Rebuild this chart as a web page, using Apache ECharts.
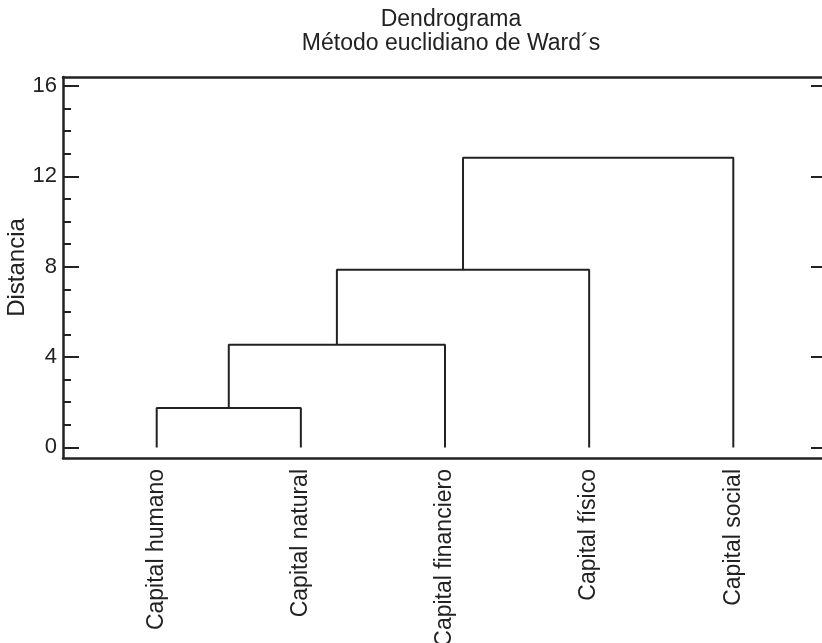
<!DOCTYPE html>
<html>
<head>
<meta charset="utf-8">
<script src="https://cdn.jsdelivr.net/npm/echarts@6/dist/echarts.min.js"></script>
<style>
  html, body { margin: 0; padding: 0; background: #fff; }
  #chart { width: 822px; height: 643px; }
</style>
</head>
<body>
<div id="chart"></div>
<script>
// leaves in the order they are drawn
const leaves = ['Capital humano', 'Capital natural', 'Capital financiero', 'Capital físico', 'Capital social'];
// merges: cluster ids 0..4 are leaves, 5.. are the merges below
const mergeLeft = [0, 5, 6, 7];
const mergeRight = [1, 2, 3, 4];
const mergeHeight = [1.74, 4.55, 7.87, 12.82];
const majorTicks = [0, 4, 8, 12, 16];
const minorTicks = [1, 2, 3, 5, 6, 7, 9, 10, 11, 13, 14, 15];

const ink = '#222';
const font = '"Liberation Sans", Arial, sans-serif';

// x position and height of every cluster
const posX = leaves.map((_, i) => i + 1);
const posH = leaves.map(() => 0);
const series = mergeLeft.map((l, k) => {
  const r = mergeRight[k];
  const h = mergeHeight[k];
  posX.push((posX[l] + posX[r]) / 2);
  posH.push(h);
  return {
    type: 'line',
    symbol: 'none',
    silent: true,
    lineStyle: { color: ink, width: 2 },
    data: [[posX[l], posH[l]], [posX[l], h], [posX[r], h], [posX[r], posH[r]]]
  };
});

const yMin = -0.47, yMax = 16.4;
const xMin = 0.35, xMax = 5.65;
const frame = { show: true, onZero: false, lineStyle: { color: ink, width: 2.5 } };

const chart = echarts.init(document.getElementById('chart'));
chart.setOption({
  animation: false,
  title: {
    text: 'Dendrograma\nMétodo euclidiano de Ward´s',
    left: 446, top: 3, textAlign: 'center',
    textStyle: { fontFamily: font, fontSize: 23, fontWeight: 'normal', color: ink, lineHeight: 24 }
  },
  grid: { left: 63, top: 77, width: 764, height: 381, outerBoundsMode: 'none', containLabel: false },
  xAxis: [{
    type: 'value', min: xMin, max: xMax, position: 'bottom',
    axisLine: frame,
    axisTick: { show: false },
    splitLine: { show: false },
    axisLabel: {
      customValues: posX.slice(0, leaves.length),
      formatter: v => leaves[Math.round(v) - 1],
      rotate: 90, margin: 11,
      fontFamily: font, fontSize: 23, color: ink
    }
  }, {
    type: 'value', min: xMin, max: xMax, position: 'top',
    axisLine: frame,
    axisTick: { show: false }, axisLabel: { show: false }, splitLine: { show: false }
  }],
  yAxis: [{
    type: 'value', min: yMin, max: yMax, position: 'left',
    name: 'Distancia', nameLocation: 'middle', nameGap: 34, nameMoveOverlap: false,
    nameTextStyle: { fontFamily: font, fontSize: 24, color: ink },
    axisLine: frame,
    axisTick: { show: true, inside: true, length: 16, customValues: majorTicks, lineStyle: { color: ink, width: 2 } },
    axisLabel: { customValues: majorTicks, margin: 6, fontFamily: font, fontSize: 22, color: ink },
    splitLine: { show: false }
  }, {
    type: 'value', min: yMin, max: yMax, position: 'left',
    axisLine: { show: false, onZero: false },
    axisTick: { show: true, inside: true, length: 8, customValues: minorTicks, lineStyle: { color: ink, width: 2 } },
    axisLabel: { show: false }, splitLine: { show: false }
  }, {
    type: 'value', min: yMin, max: yMax, position: 'right',
    axisLine: frame,
    axisTick: { show: true, inside: true, length: 16, customValues: majorTicks, lineStyle: { color: ink, width: 2 } },
    axisLabel: { show: false }, splitLine: { show: false }
  }],
  series: series
});
</script>
</body>
</html>
